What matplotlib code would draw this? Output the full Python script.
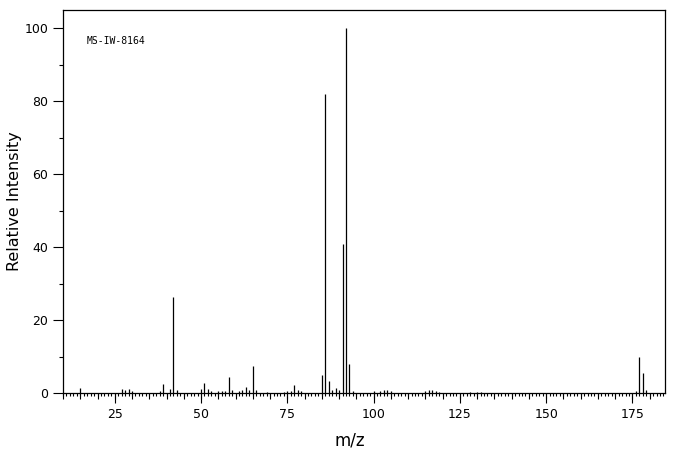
import numpy as np
import matplotlib.pyplot as plt
from matplotlib.ticker import MultipleLocator

# peak list (m/z, relative intensity %)
MZ = [15, 27, 28, 29, 30, 38, 39, 41, 42, 43, 50, 51, 52, 53, 55, 56, 57,
      58, 59, 61, 62, 63, 64, 65, 66, 69, 74, 75, 76, 77, 78, 79,
      85, 86, 87, 88, 89, 90, 91, 92, 93, 94,
      100, 102, 103, 104, 105, 115, 116, 117, 118, 119, 128, 130, 131,
      176, 177, 178, 179]
INTENSITY = [1.5, 1.2, 0.8, 1.0, 0.6, 0.5, 2.5, 1.0, 26.3, 0.9, 1.0, 2.8, 1.0, 0.6, 0.5, 0.5, 0.6,
             4.4, 0.8, 0.6, 0.8, 1.7, 0.7, 7.3, 0.8, 0.4, 0.4, 0.5, 0.5, 2.1, 0.9, 0.6,
             5.0, 82.0, 3.2, 0.8, 1.5, 0.9, 40.8, 100.0, 7.9, 0.5,
             0.6, 0.5, 0.8, 0.8, 0.6, 0.6, 0.8, 0.9, 0.6, 0.4, 0.4, 0.4, 0.4,
             0.5, 9.9, 5.6, 0.8]
LABEL = 'MS-IW-8164'

fig = plt.figure(figsize=(6.76, 4.55), dpi=100)
ax = fig.add_axes([0.0932, 0.1363, 0.8898, 0.8417])

ax.vlines(MZ, 0, INTENSITY, colors='k', lw=0.9)

ax.set_xlim(10, 184.3)
ax.set_ylim(0, 105)

ax.xaxis.set_major_locator(MultipleLocator(25))
ax.xaxis.set_minor_locator(MultipleLocator(1))
ax.yaxis.set_major_locator(MultipleLocator(20))
ax.yaxis.set_minor_locator(MultipleLocator(10))
ax.tick_params(axis='x', which='major', length=7.2, width=0.8, pad=3.5, labelsize=9)
ax.tick_params(axis='x', which='minor', length=2.5, width=0.8)
ax.tick_params(axis='y', which='major', length=7.2, width=0.8, pad=3.5, labelsize=9)
ax.tick_params(axis='y', which='minor', length=3.2, width=0.8)

# medium ticks every 5 units
sec = ax.secondary_xaxis('bottom')
sec.set_xticks(np.arange(10, 185, 5))
sec.tick_params(length=4.2, width=0.8, labelbottom=False)
sec.spines['bottom'].set_visible(False)

for s in ax.spines.values():
    s.set_linewidth(0.9)

ax.set_xlabel('m/z', fontsize=12)
ax.set_ylabel('Relative Intensity', fontsize=11.5)
ax.xaxis.set_label_coords(0.477, -0.1)
ax.yaxis.set_label_coords(-0.068, 0.5)

ax.text(0.04, 0.919, LABEL, transform=ax.transAxes, fontsize=7,
        family='DejaVu Sans Mono', va='center', ha='left')

fig.savefig('out.png', dpi=100)
